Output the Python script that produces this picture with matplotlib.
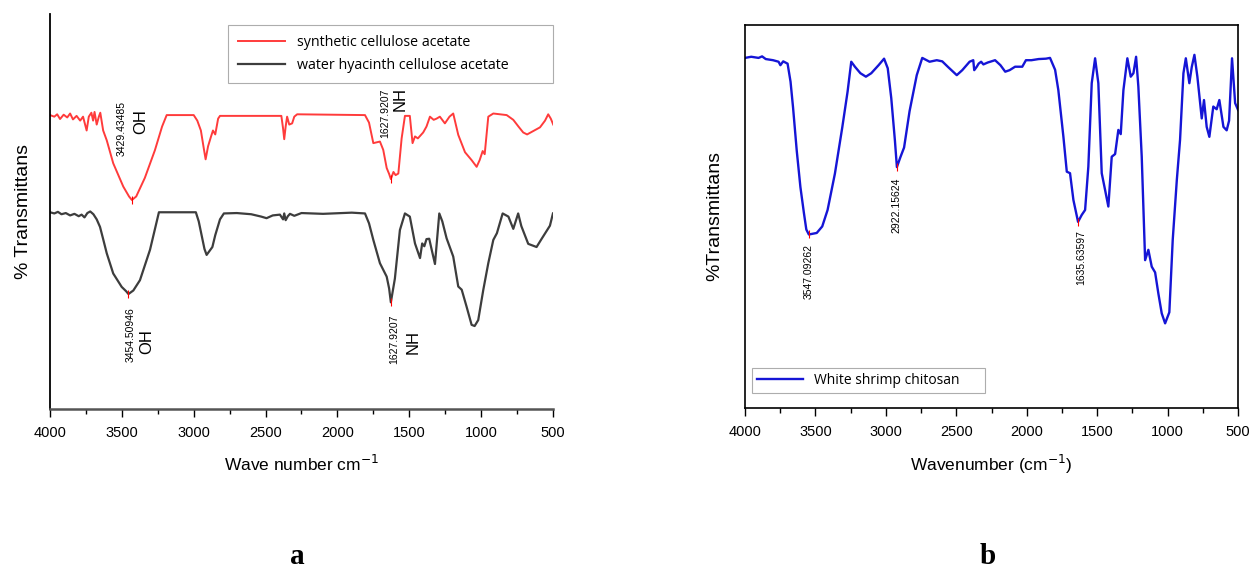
import numpy as np
import matplotlib
matplotlib.use('Agg')
import matplotlib.pyplot as plt
from matplotlib.ticker import MultipleLocator

plt.rcParams['font.family'] = ['Liberation Sans', 'DejaVu Sans']

# panel a: synthetic cellulose acetate (red)
wn_syn = [4000, 3970, 3950, 3930, 3905, 3880, 3860, 3840, 3815, 3790, 3770, 3745, 3730, 3712,
          3700, 3690, 3675, 3660, 3650, 3630, 3605, 3560, 3490, 3450, 3430, 3400, 3340, 3270,
          3220, 3188, 3000, 2975, 2950, 2930, 2917, 2900, 2880, 2866, 2850, 2830, 2817, 2390,
          2378, 2370, 2360, 2350, 2335, 2315, 2300, 2280, 1808, 1780, 1750, 1704, 1681, 1657,
          1640, 1628, 1610, 1595, 1576, 1553, 1530, 1496, 1477, 1460, 1440, 1403, 1380, 1356,
          1330, 1310, 1287, 1252, 1220, 1194, 1159, 1112, 1066, 1031, 1010, 989, 975, 950, 915,
          822, 776, 740, 707, 680, 640, 590, 555, 533, 515, 498]
t_syn = [74.4, 74.0, 74.6, 73.4, 74.5, 73.8, 74.8, 73.3, 74.2, 73.0, 74.0, 70.5, 74.0, 75.0,
         73.0, 75.2, 72.0, 74.0, 75.0, 70.5, 68.0, 62.2, 56.3, 53.8, 52.9, 53.8, 58.5, 65.5,
         71.5, 74.4, 74.4, 73.0, 70.5, 66.0, 63.2, 66.5, 68.9, 70.5, 69.5, 73.5, 74.2, 74.2,
         71.0, 68.3, 71.5, 74.0, 72.0, 72.3, 74.0, 74.6, 74.4, 72.5, 67.3, 67.7, 65.6, 61.0,
         59.5, 58.2, 60.0, 59.2, 59.6, 68.5, 74.2, 74.2, 67.3, 69.0, 68.5, 70.0, 71.5, 74.0,
         73.2, 73.5, 74.0, 72.3, 74.0, 74.8, 69.4, 65.0, 63.0, 61.3, 63.0, 65.3, 64.5, 74.0,
         74.8, 74.4, 73.2, 71.5, 70.0, 69.5, 70.3, 71.3, 73.0, 74.6, 73.5, 72.0]

# panel a: water hyacinth cellulose acetate (dark grey)
wn_wh = [4000, 3970, 3945, 3920, 3890, 3860, 3830, 3800, 3780, 3760, 3740, 3720, 3698, 3675,
         3652, 3630, 3605, 3560, 3501, 3470, 3454, 3420, 3374, 3304, 3270, 3242, 2985, 2965,
         2945, 2925, 2910, 2890, 2870, 2850, 2817, 2790, 2700, 2600, 2530, 2493, 2450, 2400,
         2378, 2370, 2360, 2345, 2330, 2300, 2250, 2100, 1900, 1808, 1780, 1750, 1704, 1657,
         1640, 1628, 1600, 1565, 1530, 1496, 1460, 1425, 1410, 1395, 1380, 1361, 1345, 1321,
         1291, 1270, 1240, 1194, 1159, 1135, 1101, 1066, 1045, 1020, 985, 950, 915, 890, 850,
         810, 776, 742, 720, 672, 614, 580, 521, 500]
t_wh = [49.8, 49.5, 49.9, 49.3, 49.6, 49.0, 49.4, 48.8, 49.2, 48.5, 49.6, 50.0, 49.3, 48.0,
        46.1, 43.0, 39.4, 34.3, 30.9, 29.8, 29.1, 30.0, 32.6, 40.3, 45.5, 49.8, 49.8, 47.5,
        44.0, 40.5, 39.0, 40.0, 41.0, 44.0, 48.0, 49.5, 49.6, 49.3, 48.7, 48.3, 49.0, 49.2,
        48.0, 49.5, 47.8, 48.8, 49.4, 48.9, 49.6, 49.4, 49.7, 49.5, 47.0, 42.8, 36.9, 33.5,
        30.5, 27.0, 33.0, 45.3, 49.5, 48.7, 41.9, 38.2, 41.9, 41.2, 43.0, 43.1, 40.5, 36.7,
        49.5, 47.5, 43.2, 38.6, 31.0, 30.2, 25.9, 21.3, 21.0, 22.5, 30.1, 36.9, 42.8, 44.5,
        49.5, 48.7, 45.6, 49.5, 46.3, 41.8, 41.0, 43.0, 46.4, 49.5]

# panel b: white shrimp chitosan (blue)
wn_chi = [4000, 3956, 3904, 3879, 3853, 3801, 3762, 3749, 3729, 3698, 3677, 3659, 3633, 3607,
          3582, 3565, 3547, 3491, 3452, 3414, 3362, 3310, 3272, 3246, 3220, 3181, 3142, 3104,
          3052, 3013, 2987, 2962, 2936, 2922, 2897, 2871, 2832, 2781, 2742, 2690, 2639, 2600,
          2561, 2497, 2458, 2406, 2380, 2373, 2355, 2342, 2324, 2308, 2277, 2225, 2187, 2153,
          2122, 2083, 2032, 2006, 1967, 1916, 1864, 1835, 1799, 1776, 1740, 1716, 1693, 1669,
          1636, 1610, 1586, 1563, 1539, 1515, 1492, 1468, 1444, 1421, 1397, 1373, 1350, 1333,
          1314, 1286, 1262, 1243, 1224, 1208, 1184, 1160, 1137, 1113, 1089, 1066, 1042, 1018,
          988, 964, 935, 912, 888, 871, 846, 829, 810, 789, 758, 742, 723, 704, 676, 652, 633,
          604, 581, 564, 543, 521, 500]
t_chi = [91.4, 91.7, 91.4, 91.8, 91.1, 90.8, 90.4, 89.5, 90.5, 89.9, 85.2, 78.4, 67.2, 57.7,
         50.9, 46.6, 45.3, 45.7, 47.4, 51.7, 61.2, 73.2, 82.6, 90.4, 89.1, 87.4, 86.5, 87.4,
         89.5, 91.2, 88.7, 80.9, 69.8, 62.9, 65.5, 68.0, 77.5, 86.9, 91.4, 90.4, 90.8, 90.5,
         89.1, 86.9, 88.2, 90.4, 90.8, 88.2, 89.1, 89.9, 90.4, 89.7, 90.2, 90.8, 89.5, 87.8,
         88.2, 89.1, 89.1, 90.8, 90.8, 91.1, 91.2, 91.4, 88.3, 83.0, 70.8, 61.7, 61.3, 54.3,
         48.6, 50.4, 51.7, 63.0, 84.8, 91.3, 84.8, 61.3, 56.9, 52.6, 65.6, 66.3, 72.6, 71.5,
         83.0, 91.3, 86.5, 87.4, 91.7, 83.9, 65.6, 38.6, 41.3, 36.9, 35.4, 29.9, 24.7, 22.1,
         25.0, 43.9, 59.5, 70.0, 87.4, 91.3, 84.8, 89.0, 92.2, 86.5, 75.6, 80.4, 73.4, 70.8,
         78.7, 78.0, 80.4, 73.4, 72.5, 75.0, 91.3, 79.6, 77.8]

ticks = [4000, 3500, 3000, 2500, 2000, 1500, 1000, 500]

# peak labels: (wavenumber, number, group, offset of number, offset of group)
peaks_syn = [(3430, '3429.43485', 'OH', (-10, 72), (9, 78)),
             (1628, '1627.9207', 'NH', (-6, 66), (9, 80))]
peaks_wh = [(3454, '3454.50946', 'OH', (2, -41), (18, -48)),
            (1628, '1627.9207', 'NH', (3, -37), (22, -40))]
peaks_chi = [(3547, '3547.09262', (0, -37)),
             (2922, '2922.15624', (0, -38)),
             (1636, '1635.63597', (3, -36))]

fig = plt.figure(figsize=(12.53, 5.70), dpi=100)
ax1 = fig.add_axes([0.0399, 0.2825, 0.4014, 0.693])
ax2 = fig.add_axes([0.5946, 0.2842, 0.3935, 0.672])

red = '#ff3b3b'
grey = '#3d3d3d'
blue = '#1515d6'

ax1.plot(wn_syn, t_syn, color=red, lw=1.4, label='synthetic cellulose acetate')
ax1.plot(wn_wh, t_wh, color=grey, lw=1.6, label='water hyacinth cellulose acetate')
ax2.plot(wn_chi, t_chi, color=blue, lw=1.7, label='White shrimp chitosan')


def label_peaks(ax, wn, t, peaks):
    for p in peaks:
        x = p[0]
        y = np.interp(x, wn[::-1], t[::-1])
        ax.plot([x], [y], marker='|', color='red', ms=6, mew=0.8)
        ax.annotate(p[1], (x, y), xytext=p[3], textcoords='offset pixels',
                    rotation=90, ha='center', va='center', fontsize=7.5)
        ax.annotate(p[2], (x, y), xytext=p[4], textcoords='offset pixels',
                    rotation=90, ha='center', va='center', fontsize=12)


label_peaks(ax1, wn_syn, t_syn, peaks_syn)
label_peaks(ax1, wn_wh, t_wh, peaks_wh)

for x, txt, off in peaks_chi:
    y = np.interp(x, wn_chi[::-1], t_chi[::-1])
    ax2.plot([x], [y], marker='|', color='red', ms=6, mew=0.8)
    ax2.annotate(txt, (x, y), xytext=off, textcoords='offset pixels',
                 rotation=90, ha='center', va='center', fontsize=7.5)

for ax in (ax1, ax2):
    ax.set_xlim(4000, 500)
    ax.set_ylim(0, 100)
    ax.set_xticks(ticks)
    ax.xaxis.set_minor_locator(MultipleLocator(250))
    ax.set_yticks([])
    ax.tick_params(axis='x', which='major', direction='out', length=6, width=1,
                   labelsize=10.5, pad=6)
    ax.tick_params(axis='x', which='minor', direction='out', length=3.5, width=1)

ax1.spines['top'].set_visible(False)
ax1.spines['right'].set_visible(False)
ax1.spines['left'].set_linewidth(1.3)
ax1.spines['bottom'].set_linewidth(1.8)
ax1.spines['bottom'].set_color('#555555')
for s in ax2.spines.values():
    s.set_linewidth(1.2)

ax1.set_ylabel('% Transmittans', fontsize=14, labelpad=13)
ax2.set_ylabel('%Transmittans', fontsize=14, labelpad=16)
ax1.set_xlabel('Wave number cm$^{-1}$', fontsize=12.5, labelpad=10)
ax2.set_xlabel('Wavenumber (cm$^{-1}$)', fontsize=12.5, labelpad=10)

leg1 = ax1.legend(loc='upper left', bbox_to_anchor=(0.354, 0.838, 0.646, 0.134),
                  mode='expand', borderaxespad=0, fancybox=False,
                  prop={'family': 'Open Sans', 'size': 10.3}, handlelength=3.3,
                  borderpad=0.7, labelspacing=0.55, edgecolor='#999999')
leg1.get_frame().set_linewidth(0.8)
leg2 = ax2.legend(loc='lower left', bbox_to_anchor=(0.0142, 0.039, 0.4726, 0.07),
                  mode='expand', borderaxespad=0, fancybox=False,
                  prop={'family': 'Open Sans', 'size': 10}, handlelength=3.3,
                  borderpad=0.35, edgecolor='#999999')
leg2.get_frame().set_linewidth(0.8)

fig.text(297 / 1253, 1 - 556 / 570, 'a', fontsize=21, fontweight='bold',
         family='Liberation Serif', ha='center', va='center')
fig.text(988 / 1253, 1 - 556 / 570, 'b', fontsize=21, fontweight='bold',
         family='Liberation Serif', ha='center', va='center')

fig.savefig('out.png', dpi=100)
